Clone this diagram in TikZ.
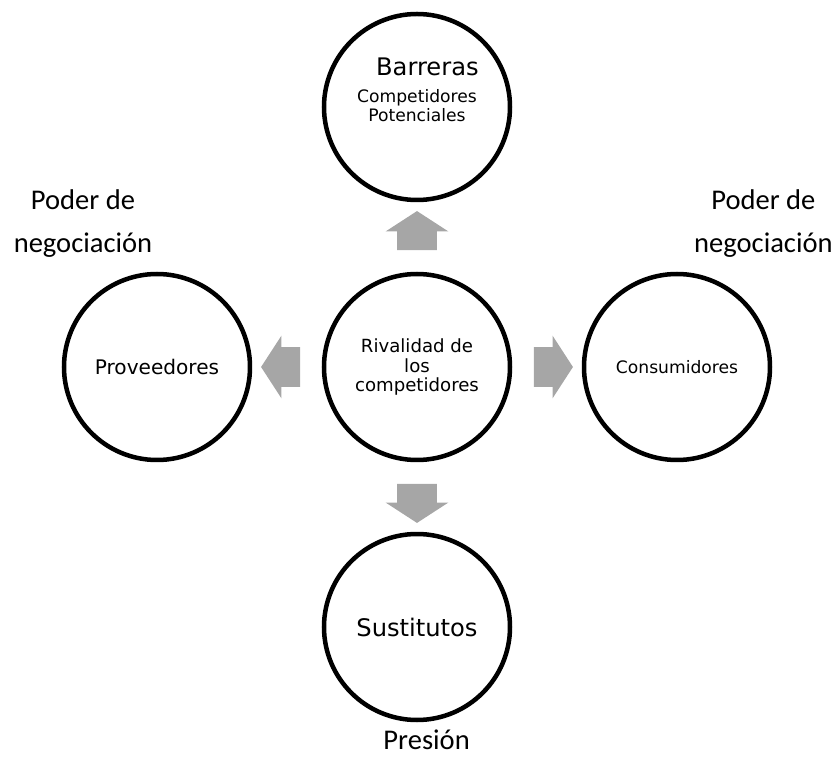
\documentclass[tikz,border=0pt]{standalone}
\usepackage{tikz}
\usetikzlibrary{positioning,calc,shapes.arrows}
\usepackage{xcolor}
\usepackage{fontspec}
\setmainfont{DejaVu Sans}
\newfontfamily\calibrifont{Carlito}
\definecolor{ArrowGray}{RGB}{166,166,166}
\tikzset{
  forcecircle/.style={draw=black,circle,line width=3.2pt,fill=white,
    minimum size=4.65cm,inner sep=0pt,align=center},
  blockarrow/.style={single arrow,fill=ArrowGray,draw=none,
    inner xsep=0pt,inner ysep=0.4875cm,minimum height=0.975cm,
    single arrow head extend=0.2875cm,single arrow tip angle=114},
  sidelabel/.style={align=center,font=\calibrifont\fontsize{20.3}{30.6}\selectfont},
}

\begin{document}
\begin{tikzpicture}[node distance=6.5cm, on grid]
  \useasboundingbox (-10.425,-9.825) rectangle (10.475,9.175);
  \node[forcecircle,font=\fontsize{12.9}{13.9}\selectfont] (riv) {Rivalidad de\\los\\competidores};
  \node[forcecircle,above=of riv] (bar) {};
  \node[forcecircle,left=of riv,font=\fontsize{14.3}{16}\selectfont] (prov) {Proveedores};
  \node[forcecircle,right=of riv,font=\fontsize{12.2}{14}\selectfont] (cons) {Consumidores};
  \node[forcecircle,below=of riv,font=\fontsize{17.2}{20}\selectfont] (sust) {Sustitutos};
  % texto del circulo de arriba
  \node[anchor=base,font=\fontsize{17.2}{19}\selectfont] (bartit) at ([xshift=0.26cm,yshift=0.775cm]bar.center) {Barreras};
  \node[align=center,font=\fontsize{12.2}{13.5}\selectfont] (barsub) at ([yshift=0.03cm]bar.center) {Competidores\\Potenciales};
  % flechas
  \node[blockarrow,rotate=90] (aup) at ($(riv)!0.5!(bar)$) {};
  \node[blockarrow,rotate=180] (aleft) at ($(riv)!0.5!(prov)$) {};
  \node[blockarrow] (aright) at ($(riv)!0.5!(cons)$) {};
  \node[blockarrow,rotate=-90] (adown) at ($(riv)!0.5!(sust)$) {};
  % etiquetas
  \node[sidelabel] (podl) at ([xshift=-1.85cm,yshift=3.59cm]prov.center) {Poder de\\negociación};
  \node[sidelabel] (podr) at ([xshift=2.16cm,yshift=3.59cm]cons.center) {Poder de\\negociación};
  \node[anchor=base,inner sep=0pt,font=\calibrifont\fontsize{20.3}{24}\selectfont] (pres) at ([xshift=0.24cm,yshift=-3.06cm]sust.center) {Presión};
\end{tikzpicture}
\end{document}
